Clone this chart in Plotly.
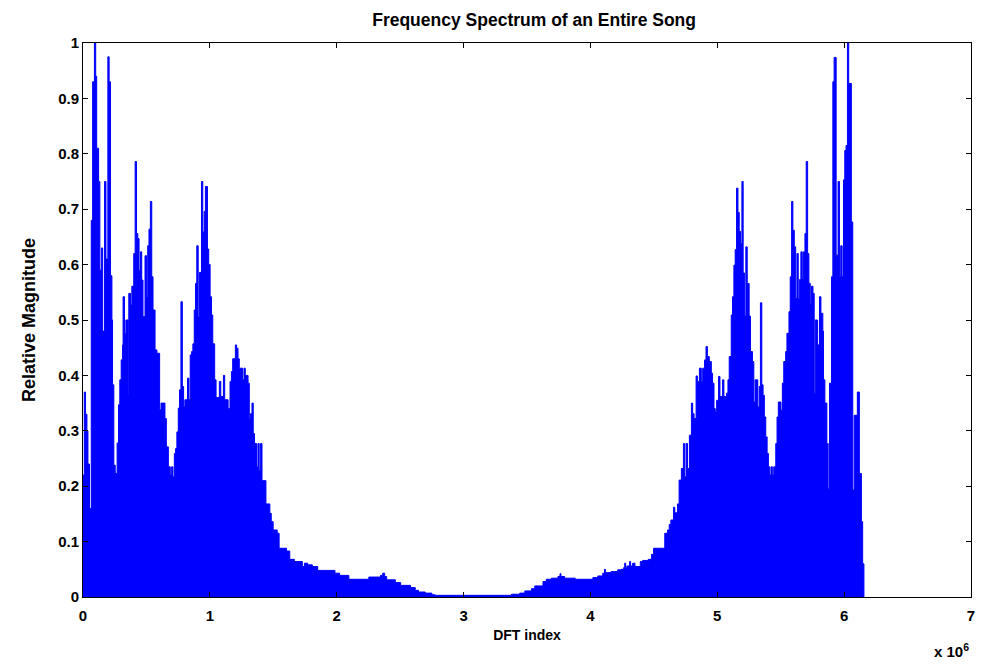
import plotly.graph_objects as go

# DFT index (in units of 1e6) where each envelope step starts
dft_index_millions = [
    0.000, 0.010, 0.020, 0.031, 0.039, 0.051, 0.065, 0.076, 0.090, 0.100,
    0.108, 0.123, 0.133, 0.145, 0.155, 0.170, 0.181, 0.196, 0.206, 0.217,
    0.228, 0.233, 0.243, 0.254, 0.269, 0.280, 0.290, 0.301, 0.312, 0.316,
    0.327, 0.338, 0.356, 0.361, 0.374, 0.385, 0.400, 0.411, 0.422, 0.432,
    0.442, 0.453, 0.463, 0.473, 0.489, 0.500, 0.510, 0.520, 0.531, 0.542,
    0.552, 0.568, 0.583, 0.604, 0.615, 0.646, 0.657, 0.673, 0.688, 0.699,
    0.709, 0.720, 0.730, 0.740, 0.751, 0.761, 0.772, 0.783, 0.793, 0.803,
    0.824, 0.835, 0.845, 0.856, 0.866, 0.877, 0.887, 0.897, 0.908, 0.918,
    0.934, 0.944, 0.955, 0.965, 0.981, 0.991, 1.002, 1.013, 1.023, 1.038,
    1.049, 1.075, 1.086, 1.107, 1.117, 1.144, 1.159, 1.170, 1.180, 1.201,
    1.211, 1.222, 1.232, 1.258, 1.269, 1.279, 1.301, 1.311, 1.321, 1.332,
    1.342, 1.352, 1.368, 1.379, 1.389, 1.400, 1.411, 1.442, 1.473, 1.484,
    1.499, 1.531, 1.546, 1.604, 1.630, 1.666, 1.729, 1.745, 1.772, 1.808,
    1.850, 1.986, 2.023, 2.096, 2.253, 2.345, 2.363, 2.378, 2.394, 2.462,
    2.504, 2.582, 2.619, 2.645, 2.698, 2.750, 2.776, 3.378, 3.443, 3.483,
    3.535, 3.561, 3.626, 3.652, 3.692, 3.744, 3.760, 3.768, 3.797, 3.880,
    4.019, 4.058, 4.097, 4.111, 4.118, 4.123, 4.163, 4.215, 4.241, 4.262,
    4.270, 4.278, 4.288, 4.309, 4.317, 4.333, 4.351, 4.393, 4.411, 4.456,
    4.482, 4.498, 4.586, 4.608, 4.621, 4.634, 4.655, 4.665, 4.686, 4.699,
    4.717, 4.733, 4.743, 4.754, 4.765, 4.780, 4.796, 4.806, 4.817, 4.833,
    4.843, 4.859, 4.874, 4.885, 4.900, 4.911, 4.922, 4.937, 4.953, 4.963,
    4.974, 4.984, 4.995, 5.010, 5.021, 5.042, 5.052, 5.073, 5.084, 5.094,
    5.110, 5.120, 5.131, 5.141, 5.152, 5.163, 5.173, 5.183, 5.194, 5.204,
    5.214, 5.225, 5.236, 5.251, 5.262, 5.277, 5.288, 5.298, 5.319, 5.330,
    5.340, 5.351, 5.361, 5.371, 5.382, 5.393, 5.403, 5.414, 5.424, 5.434,
    5.445, 5.461, 5.471, 5.481, 5.502, 5.513, 5.524, 5.539, 5.549, 5.565,
    5.575, 5.586, 5.596, 5.607, 5.618, 5.628, 5.638, 5.649, 5.659, 5.670,
    5.680, 5.691, 5.701, 5.712, 5.722, 5.733, 5.743, 5.754, 5.764, 5.772,
    5.791, 5.806, 5.817, 5.832, 5.837, 5.848, 5.864, 5.874, 5.885, 5.900,
    5.911, 5.921, 5.937, 5.952, 5.963, 5.973, 5.984, 5.995, 6.005, 6.015,
    6.026, 6.036, 6.057, 6.068, 6.079, 6.104, 6.120, 6.136, 6.146, 6.156,
]

# Relative magnitude (peak envelope) for each step
relative_magnitude = [
    0.220, 0.370, 0.330, 0.300, 0.240, 0.160, 0.680, 0.930, 1.000, 0.940,
    0.810, 0.750, 0.590, 0.630, 0.480, 0.750, 0.610, 0.975, 0.930, 0.580,
    0.500, 0.383, 0.238, 0.223, 0.278, 0.347, 0.392, 0.428, 0.455, 0.542,
    0.476, 0.500, 0.368, 0.548, 0.527, 0.561, 0.620, 0.786, 0.656, 0.647,
    0.590, 0.623, 0.572, 0.506, 0.616, 0.542, 0.634, 0.664, 0.714, 0.578,
    0.518, 0.446, 0.440, 0.338, 0.350, 0.322, 0.271, 0.235, 0.220, 0.235,
    0.217, 0.259, 0.268, 0.298, 0.341, 0.374, 0.533, 0.380, 0.344, 0.356,
    0.395, 0.356, 0.437, 0.443, 0.457, 0.518, 0.566, 0.634, 0.506, 0.586,
    0.750, 0.659, 0.696, 0.741, 0.628, 0.600, 0.542, 0.509, 0.457, 0.392,
    0.360, 0.389, 0.362, 0.400, 0.356, 0.340, 0.389, 0.407, 0.430, 0.455,
    0.449, 0.430, 0.413, 0.392, 0.413, 0.400, 0.386, 0.322, 0.331, 0.350,
    0.295, 0.277, 0.235, 0.277, 0.229, 0.277, 0.210, 0.168, 0.151, 0.136,
    0.121, 0.115, 0.088, 0.083, 0.068, 0.064, 0.055, 0.061, 0.058, 0.055,
    0.048, 0.043, 0.039, 0.032, 0.036, 0.039, 0.043, 0.037, 0.031, 0.026,
    0.021, 0.017, 0.012, 0.009, 0.007, 0.004, 0.003, 0.005, 0.007, 0.011,
    0.015, 0.020, 0.028, 0.032, 0.034, 0.037, 0.042, 0.037, 0.034, 0.032,
    0.035, 0.038, 0.043, 0.050, 0.043, 0.044, 0.046, 0.049, 0.050, 0.053,
    0.061, 0.053, 0.056, 0.064, 0.056, 0.061, 0.055, 0.064, 0.066, 0.068,
    0.077, 0.088, 0.115, 0.121, 0.131, 0.139, 0.162, 0.152, 0.168, 0.211,
    0.232, 0.277, 0.217, 0.277, 0.232, 0.292, 0.350, 0.331, 0.322, 0.399,
    0.389, 0.413, 0.389, 0.413, 0.428, 0.452, 0.434, 0.425, 0.404, 0.386,
    0.340, 0.334, 0.355, 0.398, 0.362, 0.392, 0.362, 0.368, 0.392, 0.434,
    0.509, 0.542, 0.599, 0.627, 0.738, 0.694, 0.660, 0.638, 0.750, 0.585,
    0.507, 0.632, 0.566, 0.507, 0.443, 0.425, 0.352, 0.392, 0.343, 0.380,
    0.531, 0.383, 0.364, 0.325, 0.289, 0.259, 0.235, 0.220, 0.235, 0.220,
    0.235, 0.277, 0.325, 0.352, 0.337, 0.386, 0.425, 0.443, 0.476, 0.515,
    0.578, 0.714, 0.662, 0.632, 0.539, 0.620, 0.539, 0.573, 0.623, 0.575,
    0.623, 0.656, 0.786, 0.620, 0.566, 0.530, 0.561, 0.548, 0.368, 0.500,
    0.455, 0.542, 0.512, 0.480, 0.392, 0.350, 0.277, 0.196, 0.386, 0.578,
    0.930, 0.974, 0.617, 0.750, 0.578, 0.634, 0.578, 0.753, 0.806, 0.815,
    1.000, 0.927, 0.677, 0.193, 0.328, 0.370, 0.223, 0.136, 0.060, 0.000,
]

x_ticks = [0, 1, 2, 3, 4, 5, 6, 7]
y_ticks = [0, 0.1, 0.2, 0.3, 0.4, 0.5, 0.6, 0.7, 0.8, 0.9, 1]
y_tick_labels = ["0", "0.1", "0.2", "0.3", "0.4", "0.5", "0.6", "0.7", "0.8", "0.9", "1"]

FONT = "Liberation Sans, Arial, sans-serif"


def bold(size):
    return dict(family=FONT, size=size, color="black", weight="bold")


fig = go.Figure()
fig.add_trace(go.Scatter(
    x=dft_index_millions, y=relative_magnitude,
    mode="lines", line=dict(color="#0000ff", width=1, shape="hv"),
    fill="tozeroy", fillcolor="#0000ff", hoverinfo="skip", showlegend=False,
))

axis_common = dict(
    showline=True, linecolor="black", linewidth=1, mirror="ticks",
    ticks="inside", ticklen=5, tickcolor="black", showgrid=False, zeroline=False,
    tickfont=bold(15),
)

fig.update_layout(
    width=982, height=664,
    margin=dict(l=83, r=7, t=43, b=67),
    paper_bgcolor="white", plot_bgcolor="white",
    title=dict(text="Frequency Spectrum of an Entire Song", x=0.508, xanchor="center",
               xref="paper", y=1 - 20 / 664, yanchor="middle", font=bold(17.5)),
    xaxis=dict(range=[0, 7], tickvals=x_ticks, ticktext=[str(v) for v in x_ticks],
               ticklabelstandoff=5,
               title=dict(text="DFT index", standoff=7, font=bold(14)),
               **axis_common),
    yaxis=dict(range=[0, 1], tickvals=y_ticks, ticktext=y_tick_labels,
               title=dict(text="Relative Magnitude", standoff=17, font=bold(18)),
               **axis_common),
)

fig.add_annotation(
    text="x 10<sup>6</sup>", xref="paper", yref="paper", x=1.0, y=-0.096,
    xanchor="right", yanchor="middle", showarrow=False, font=bold(15),
)

fig.write_html("out.html", config={"displayModeBar": False},
               post_script="document.body.style.margin='0';")
